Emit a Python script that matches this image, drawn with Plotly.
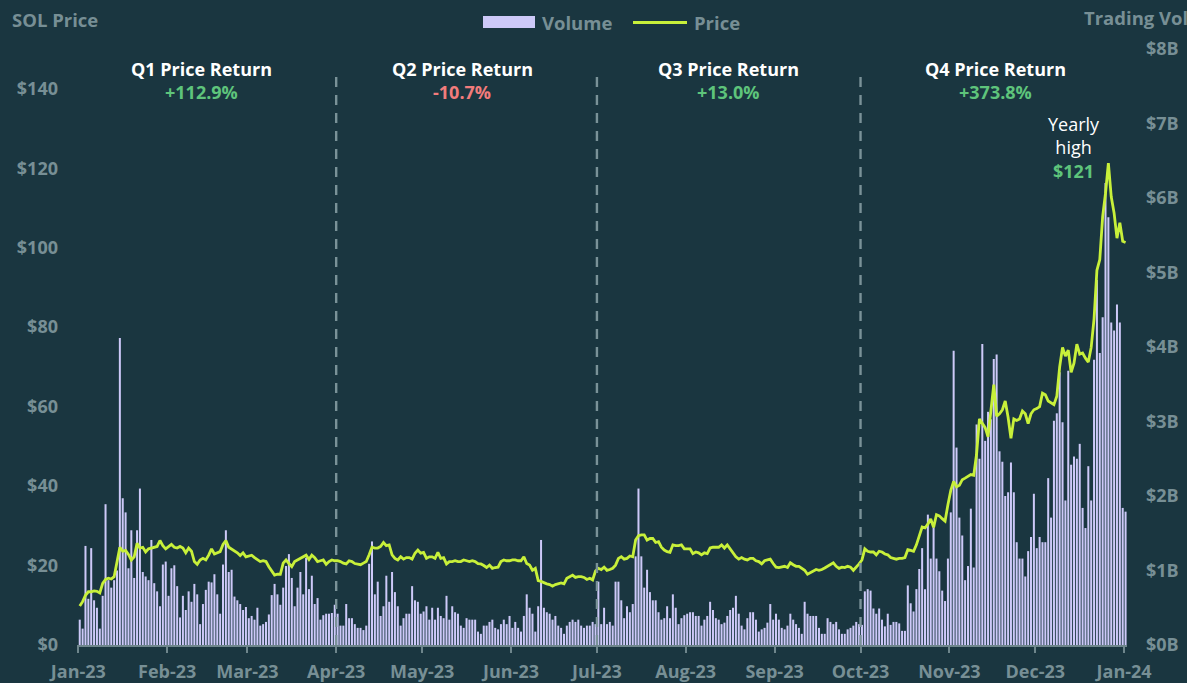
import pandas as pd
import plotly.graph_objects as go

# ---------------- data ----------------
price_jan = [9.8, 10.9, 12.5, 13.4, 13.4, 13.6, 13.5, 13.1, 15.5, 16.5, 16.8, 16.6, 17.2, 20.6, 24.6, 23.6,
             23.8, 22.8, 21.4, 22.2, 25.6, 24.4, 24.6, 23.4, 24.2, 24.4, 24.6, 24.8, 26.3, 25.0, 24.2]
price_feb = [24.8, 25.3, 24.6, 24.4, 24.8, 24.4, 23.2, 24.4, 23.6, 21.0, 20.3, 21.4, 21.8, 21.4, 22.6, 24.2,
             22.9, 23.2, 23.5, 25.3, 26.3, 24.6, 24.2, 23.8, 23.2, 22.5, 23.2, 22.2]
price_mar = [22.4, 22.6, 22.0, 21.5, 21.0, 21.2, 21.0, 19.7, 18.6, 17.6, 17.8, 17.8, 20.6, 21.4, 20.5, 19.7,
             21.0, 21.4, 21.8, 22.2, 22.6, 21.5, 22.6, 22.0, 21.0, 21.2, 21.4, 20.3, 21.0, 21.4, 21.2]
price_apr = [21.2, 21.0, 20.6, 20.4, 21.2, 21.0, 20.5, 20.4, 20.2, 20.6, 21.0, 22.7, 24.6, 24.4, 24.4, 24.8,
             25.8, 25.0, 25.2, 22.7, 21.8, 21.4, 22.2, 21.6, 22.0, 22.0, 21.6, 23.1, 23.9, 23.1]
price_may = [23.3, 21.8, 22.2, 22.2, 21.8, 23.3, 21.8, 22.0, 20.4, 21.0, 21.0, 21.2, 21.0, 21.0, 21.4, 21.2,
             21.0, 21.2, 21.0, 20.5, 20.4, 20.0, 19.5, 20.1, 19.3, 19.5, 19.6, 21.0, 21.4, 21.2, 21.2]
price_jun = [21.4, 21.4, 21.2, 21.2, 22.2, 20.5, 20.1, 18.8, 19.3, 16.2, 16.0, 15.6, 15.4, 15.2, 14.8, 15.2,
             15.4, 15.6, 15.4, 16.8, 17.2, 17.6, 17.0, 17.2, 17.2, 17.0, 16.5, 16.8, 16.4, 18.6]
price_jul = [19.3, 19.0, 19.6, 18.8, 19.0, 19.3, 20.1, 21.8, 22.2, 21.6, 21.8, 22.4, 22.2, 26.4, 27.5, 27.7,
             27.7, 26.4, 26.8, 26.8, 25.8, 26.0, 24.6, 23.9, 23.5, 23.3, 25.2, 25.0, 25.0, 25.2, 24.2]
price_aug = [24.2, 24.2, 23.0, 23.4, 23.2, 22.7, 23.2, 23.0, 24.4, 24.6, 24.6, 24.6, 25.2, 24.4, 25.2, 24.2,
             23.2, 22.2, 21.6, 22.0, 21.6, 21.4, 21.8, 21.8, 21.2, 21.0, 20.4, 21.2, 21.4, 21.6, 20.5]
price_sep = [19.6, 19.5, 19.6, 19.8, 19.5, 20.7, 20.2, 19.8, 19.8, 19.3, 18.8, 17.8, 18.2, 18.6, 19.0, 18.8,
             19.0, 19.4, 19.8, 20.2, 20.7, 19.8, 19.3, 19.6, 19.5, 19.8, 19.6, 18.8, 19.5, 20.4]
price_oct = [21.4, 24.2, 23.6, 23.4, 23.4, 22.7, 23.6, 23.4, 22.9, 22.7, 22.0, 21.8, 21.6, 21.8, 21.8, 22.0,
             24.0, 23.8, 23.6, 25.2, 27.2, 29.7, 29.5, 30.4, 31.7, 29.6, 32.8, 32.5, 31.8, 31.2, 35.3]
price_nov = [38.9, 41.2, 39.8, 40.2, 41.6, 42.0, 42.5, 42.9, 42.7, 48.0, 56.9, 55.9, 54.7, 52.4, 58.7, 65.5,
             57.6, 58.2, 59.2, 61.4, 57.3, 52.0, 56.9, 56.5, 56.9, 58.9, 58.2, 55.7, 58.2, 59.2]
price_dec = [59.5, 60.0, 63.4, 63.0, 61.4, 60.9, 60.5, 62.6, 70.0, 74.9, 72.7, 74.2, 68.6, 70.9, 75.7, 73.2,
             73.5, 72.2, 71.2, 74.9, 82.1, 94.3, 97.0, 107.8, 113.7, 121.3, 112.8, 108.7, 102.4, 106.3, 101.6]
price_jan24 = [101.3]

# trading volume, $ billions
vol_jan = [0.34, 0.22, 1.33, 0.62, 1.30, 0.60, 0.50, 0.22, 0.66, 1.89, 0.87, 0.77, 0.87, 1.00, 4.12, 1.97,
           1.78, 1.03, 1.54, 0.90, 1.54, 2.10, 0.98, 0.92, 0.87, 1.41, 0.83, 0.72, 0.52, 1.08, 1.12]
vol_feb = [0.66, 1.03, 1.07, 0.79, 0.37, 0.66, 0.47, 0.72, 0.58, 0.82, 0.68, 0.28, 0.55, 0.74, 0.85, 0.84,
           0.95, 0.68, 0.42, 1.08, 1.54, 0.98, 1.01, 0.65, 0.60, 0.55, 0.47, 0.51]
vol_mar = [0.36, 0.39, 0.34, 0.50, 0.26, 0.28, 0.31, 0.41, 0.67, 0.82, 0.68, 0.54, 0.77, 1.06, 1.22, 0.90,
           0.52, 0.77, 0.98, 0.68, 1.17, 0.75, 0.93, 0.55, 0.63, 0.34, 0.40, 0.42, 0.42, 0.43, 0.54]
vol_apr = [0.42, 0.26, 0.26, 0.55, 0.36, 0.36, 0.28, 0.23, 0.23, 0.20, 0.26, 1.09, 1.39, 0.68, 0.85, 0.39,
           0.52, 0.93, 0.58, 0.98, 0.71, 0.52, 0.26, 0.36, 0.42, 0.42, 0.79, 0.60, 0.58, 0.42]
vol_may = [0.45, 0.52, 0.34, 0.50, 0.34, 0.50, 0.39, 0.36, 0.66, 0.34, 0.52, 0.44, 0.42, 0.26, 0.23, 0.36,
           0.34, 0.34, 0.34, 0.18, 0.15, 0.26, 0.26, 0.31, 0.34, 0.23, 0.21, 0.28, 0.34, 0.28, 0.39]
vol_jun = [0.23, 0.31, 0.23, 0.18, 0.39, 0.68, 0.50, 0.42, 0.18, 0.52, 1.41, 0.50, 0.44, 0.42, 0.34, 0.39,
           0.26, 0.23, 0.15, 0.26, 0.31, 0.34, 0.31, 0.34, 0.26, 0.23, 0.26, 0.26, 0.31, 0.28]
vol_jul = [0.85, 0.28, 0.50, 0.28, 0.31, 0.26, 0.85, 0.85, 0.60, 0.36, 0.52, 0.44, 0.55, 1.19, 2.10, 1.19,
           0.77, 1.01, 0.71, 0.60, 0.60, 0.44, 0.34, 0.36, 0.52, 0.36, 0.68, 0.50, 0.28, 0.36, 0.40]
vol_aug = [0.42, 0.44, 0.44, 0.39, 0.39, 0.26, 0.34, 0.39, 0.58, 0.47, 0.36, 0.34, 0.28, 0.30, 0.39, 0.47,
           0.50, 0.66, 0.42, 0.26, 0.21, 0.36, 0.44, 0.44, 0.34, 0.18, 0.21, 0.23, 0.30, 0.55, 0.34]
vol_sep = [0.42, 0.34, 0.23, 0.21, 0.26, 0.42, 0.34, 0.28, 0.23, 0.15, 0.58, 0.42, 0.39, 0.39, 0.39, 0.23,
           0.15, 0.15, 0.36, 0.31, 0.28, 0.31, 0.21, 0.15, 0.15, 0.21, 0.23, 0.26, 0.31, 0.28]
vol_oct = [0.27, 0.72, 0.75, 0.73, 0.49, 0.42, 0.49, 0.34, 0.25, 0.42, 0.27, 0.31, 0.31, 0.29, 0.19, 0.19,
           0.80, 0.56, 0.45, 0.75, 1.02, 1.30, 0.75, 1.75, 1.16, 1.58, 1.16, 0.99, 0.73, 0.59, 1.16]
vol_nov = [1.78, 3.95, 2.65, 1.71, 1.47, 0.87, 1.06, 1.83, 1.04, 2.96, 2.50, 4.04, 2.74, 3.13, 3.03, 3.84,
           3.90, 2.60, 2.46, 2.00, 2.05, 2.45, 2.05, 1.38, 1.16, 1.16, 0.92, 1.26, 1.45, 2.03]
vol_dec = [1.30, 1.45, 1.38, 1.38, 2.24, 1.71, 3.01, 3.11, 3.66, 2.99, 1.94, 3.68, 2.42, 2.53, 2.50, 2.70,
           1.84, 1.57, 2.40, 1.94, 3.83, 4.90, 3.92, 4.40, 6.20, 5.74, 4.33, 4.22, 4.57, 4.33, 1.84]
vol_jan24 = [1.79]

quarter_labels = ["Q1 Price Return", "Q2 Price Return", "Q3 Price Return", "Q4 Price Return"]
quarter_returns = ["+112.9%", "-10.7%", "+13.0%", "+373.8%"]
quarter_mid_dates = ["2023-02-13", "2023-05-15", "2023-08-16", "2023-11-17"]
quarter_bounds = ["2023-04-01", "2023-07-01", "2023-10-01"]
yearly_high = 121

price = (price_jan + price_feb + price_mar + price_apr + price_may + price_jun + price_jul +
         price_aug + price_sep + price_oct + price_nov + price_dec + price_jan24)
volume = (vol_jan + vol_feb + vol_mar + vol_apr + vol_may + vol_jun + vol_jul +
          vol_aug + vol_sep + vol_oct + vol_nov + vol_dec + vol_jan24)
dates = [d.strftime("%Y-%m-%d") for d in pd.date_range("2023-01-01", periods=len(price), freq="D")]

# ---------------- style ----------------
BG = "#1a3640"
GRAY = "#778f95"
AXIS = "#6e868c"
DASH = "#7a9298"
BAR = "#cdc9f8"
LINE = "#c8f03a"
GREEN = "#5ec47b"
RED = "#f27c7c"
FONT = "Open Sans"
DAY_MS = 86400000

W, H = 1187, 683
ML, MR, MT, MB = 77, 60, 49, 38
PW, PH = W - ML - MR, H - MT - MB


def px_x(p):
    return (p - ML) / PW


def px_y(p):
    return (H - MB - p) / PH


fig = go.Figure()
fig.add_trace(go.Bar(x=dates, y=volume, name="Volume", marker=dict(color=BAR, line=dict(width=0)),
                     xperiod=DAY_MS, xperiodalignment="middle", yaxis="y"))
fig.add_trace(go.Scatter(x=dates, y=price, name="Price", mode="lines", line=dict(color=LINE, width=2.8),
                         xperiod=DAY_MS, xperiodalignment="middle", yaxis="y2"))

tickfont = dict(family=FONT, size=18, color=GRAY, weight="bold")

fig.update_layout(
    width=W, height=H,
    margin=dict(l=ML, r=MR, t=MT, b=MB, autoexpand=False),
    paper_bgcolor=BG, plot_bgcolor=BG,
    showlegend=False,
    bargap=0.3,
    font=dict(family=FONT),
    xaxis=dict(type="date", range=["2022-12-31 13:00", "2024-01-02 00:00"], automargin=False,
               tick0="2023-01-01", dtick="M1", tickformat="%b-%y",
               ticks="outside", ticklen=6, tickwidth=2, tickcolor=AXIS,
               showline=True, linecolor=AXIS, linewidth=2,
               showgrid=False, zeroline=False, tickfont=tickfont, ticklabelstandoff=3),
    yaxis=dict(side="right", range=[0, 8], tick0=0, dtick=1, tickprefix="$", ticksuffix="B",
               automargin=False, showgrid=False, zeroline=False, showline=False,
               tickfont=tickfont, ticklabelstandoff=18),
    yaxis2=dict(side="left", overlaying="y", range=[0, 150], tick0=0, dtick=20, tickprefix="$",
                automargin=False, showgrid=False, zeroline=False, showline=False,
                tickfont=tickfont, ticklabelstandoff=18),
)

# quarter separators
for d in quarter_bounds:
    fig.add_shape(type="line", xref="x", yref="paper", x0=d, x1=d, y0=0, y1=px_y(72),
                  line=dict(color=DASH, width=2.4, dash="10px,8px"), layer="above")

# quarter annotations
for lab, ret, md in zip(quarter_labels, quarter_returns, quarter_mid_dates):
    fig.add_annotation(x=md, xref="x", y=px_y(69.5), yref="paper", text="<b>%s</b>" % lab,
                       showarrow=False, font=dict(family=FONT, size=18, color="#ffffff"),
                       xanchor="center", yanchor="middle")
    fig.add_annotation(x=md, xref="x", y=px_y(92), yref="paper", text="<b>%s</b>" % ret,
                       showarrow=False, font=dict(family=FONT, size=18,
                                                  color=RED if ret.startswith("-") else GREEN),
                       xanchor="center", yanchor="middle")

# yearly high label
fig.add_annotation(x=px_x(1074), xref="paper", y=px_y(148), yref="paper",
                   text="Yearly<br>high<br><span style='color:%s'><b>$%d</b></span>" % (GREEN, yearly_high),
                   showarrow=False, xanchor="center", yanchor="middle", align="center",
                   font=dict(family=FONT, size=18, color="#ffffff"))

# axis titles
fig.add_annotation(x=px_x(10), xref="paper", y=px_y(20), yref="paper", text="<b>SOL Price</b>",
                   showarrow=False, xanchor="left", yanchor="middle",
                   font=dict(family=FONT, size=18.5, color=GRAY))
fig.add_annotation(x=px_x(1082), xref="paper", y=px_y(17.5), yref="paper", text="<b>Trading Vol</b>",
                   showarrow=False, xanchor="left", yanchor="middle",
                   font=dict(family=FONT, size=18.5, color=GRAY))

# custom legend
fig.add_shape(type="rect", xref="paper", yref="paper", x0=px_x(483), x1=px_x(535),
              y0=px_y(28), y1=px_y(16), fillcolor=BAR, line=dict(width=0))
fig.add_annotation(x=px_x(540), xref="paper", y=px_y(22.5), yref="paper", text="<b>Volume</b>",
                   showarrow=False, xanchor="left", yanchor="middle",
                   font=dict(family=FONT, size=18.5, color=GRAY))
fig.add_shape(type="line", xref="paper", yref="paper", x0=px_x(633), x1=px_x(687),
              y0=px_y(22.5), y1=px_y(22.5), line=dict(color=LINE, width=2.8))
fig.add_annotation(x=px_x(692), xref="paper", y=px_y(22.5), yref="paper", text="<b>Price</b>",
                   showarrow=False, xanchor="left", yanchor="middle",
                   font=dict(family=FONT, size=18.5, color=GRAY))

fig.write_html("out.html", config={"displayModeBar": False},
               post_script="document.body.style.margin='0';document.body.style.overflow='hidden';")
